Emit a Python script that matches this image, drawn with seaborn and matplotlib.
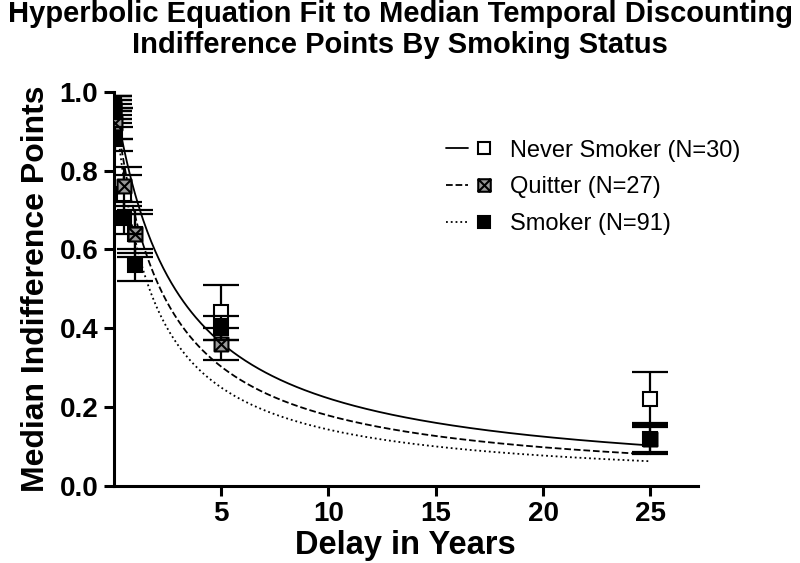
import matplotlib
matplotlib.use("Agg")
import matplotlib.pyplot as plt
from matplotlib.path import Path
from matplotlib.lines import Line2D
from matplotlib.legend_handler import HandlerTuple
import numpy as np
import pandas as pd
import seaborn as sns

# delays in years: 1 day, 1 week, 1 month, 6 months, 1 year, 5 years, 25 years
delays = [1 / 365, 7 / 365, 1 / 12, 0.5, 1, 5, 25]

never_med = [0.97, 0.96, 0.92, 0.74, 0.64, 0.44, 0.22]
never_err = [0.02, 0.02, 0.04, 0.05, 0.06, 0.07, 0.07]
quitter_med = [0.96, 0.95, 0.92, 0.76, 0.64, 0.36, 0.12]
quitter_err = [0.03, 0.03, 0.04, 0.05, 0.05, 0.04, 0.04]
smoker_med = [0.97, 0.95, 0.88, 0.68, 0.56, 0.40, 0.12]
smoker_err = [0.02, 0.02, 0.03, 0.04, 0.04, 0.03, 0.035]

# hyperbolic k values for V = 1 / (1 + kD)
groups = ["Never Smoker (N=30)", "Quitter (N=27)", "Smoker (N=91)"]
k_values = [0.35, 0.46, 0.60]

sns.set_style("ticks", {"axes.edgecolor": "black", "text.color": "black",
                        "axes.labelcolor": "black", "xtick.color": "black",
                        "ytick.color": "black"})
plt.rcParams['font.family'] = ['Liberation Sans', 'DejaVu Sans']

fig = plt.figure(figsize=(8, 5.63), dpi=100)
ax = fig.add_axes([0.142, 0.137, 0.73, 0.70])

# square with an X inside for quitters
boxx = Path([(-1, -1), (1, -1), (1, 1), (-1, 1), (-1, -1),
             (-1, -1), (1, 1), (-1, 1), (1, -1)],
            [Path.MOVETO, Path.LINETO, Path.LINETO, Path.LINETO, Path.CLOSEPOLY,
             Path.MOVETO, Path.LINETO, Path.MOVETO, Path.LINETO])

styles = ["-", "--", ":"]
markers = ["s", boxx, "s"]
faces = ["white", "#9a9a9a", "black"]
meds = [never_med, quitter_med, smoker_med]
errs = [never_err, quitter_err, smoker_err]

# fitted curves
xs = np.linspace(0, 25, 400)
for g, k, ls in zip(groups, k_values, styles):
    curve = pd.DataFrame({"x": xs, "y": 1 / (1 + k * xs)})
    sns.lineplot(data=curve, x="x", y="y", ax=ax, color="black",
                 linestyle=ls, linewidth=1.3)

# points with error bars (smoker drawn last, on top)
for i in range(3):
    ax.errorbar(delays, meds[i], yerr=errs[i], fmt="none", ecolor="black",
                elinewidth=1.6, capsize=13, capthick=1.6, zorder=3 + i)
    ax.plot(delays, meds[i], linestyle="none", marker=markers[i], markersize=10,
            markerfacecolor=faces[i], markeredgecolor="black",
            markeredgewidth=1.5, zorder=3.5 + i)

ax.set_xlim(0, 27.2)
ax.set_ylim(0, 1.0)
ax.set_xticks([5, 10, 15, 20, 25])
ax.set_yticks([0.0, 0.2, 0.4, 0.6, 0.8, 1.0])
ax.set_yticklabels(["0.0", "0.2", "0.4", "0.6", "0.8", "1.0"])
ax.tick_params(axis="both", length=7, width=2.2, labelsize=20, pad=4, colors="black")
for lab in ax.get_xticklabels() + ax.get_yticklabels():
    lab.set_fontweight("bold")
for s in ["left", "bottom"]:
    ax.spines[s].set_linewidth(2.2)
sns.despine(ax=ax)

ax.set_xlabel("Delay in Years", fontsize=23.5, fontweight="bold", labelpad=2)
ax.set_ylabel("Median Indifference Points", fontsize=23, fontweight="bold", labelpad=6)
fig.suptitle("Hyperbolic Equation Fit to Median Temporal Discounting\nIndifference Points By Smoking Status",
             fontsize=21, fontweight="bold", y=1.0, linespacing=1.15)

# legend: line on the left, marker on the right
handles = []
for i in range(3):
    ln = Line2D([], [], color="black", linestyle=styles[i], linewidth=1.3)
    mk = Line2D([], [], linestyle="none", marker=markers[i], markersize=9,
                markerfacecolor=faces[i], markeredgecolor="black", markeredgewidth=1.5)
    handles.append((ln, mk))
leg = ax.legend(handles, groups, handler_map={tuple: HandlerTuple(ndivide=None, pad=0.2)},
                loc="center left", bbox_to_anchor=(0.532, 0.758), frameon=False,
                handlelength=2.1, labelspacing=0.62, handletextpad=0.65,
                prop={"family": ["Liberation Sans", "DejaVu Sans"], "size": 17})

fig.savefig("out.png", dpi=100)
